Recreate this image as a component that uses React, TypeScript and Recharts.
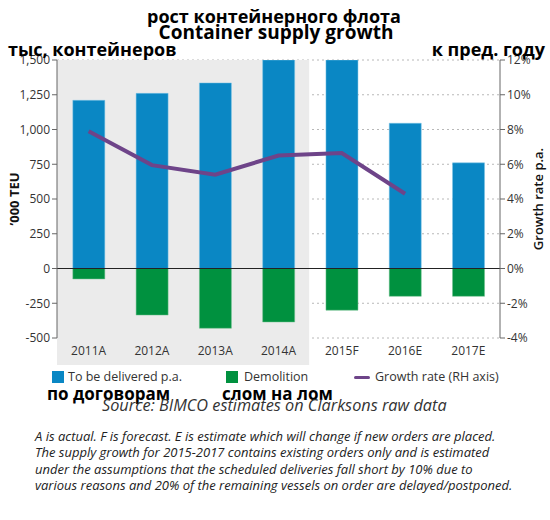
import { Bar, CartesianGrid, ComposedChart, Line, ReferenceArea, ReferenceLine, XAxis, YAxis } from "recharts";

const years = ["2011A", "2012A", "2013A", "2014A", "2015F", "2016E", "2017E"];
const delivered = [1210, 1260, 1335, 1700, 1720, 1045, 760];
const demolition = [-75, -335, -430, -385, -300, -200, -200];
const growthRate: (number | null)[] = [7.9, 5.95, 5.4, 6.5, 6.65, 4.3, null];
const teuTicks = [-500, -250, 0, 250, 500, 750, 1000, 1250, 1500];
const rateTicks = [-4, -2, 0, 2, 4, 6, 8, 10, 12];
const noteLines = [
    "A is actual. F is forecast. E is estimate which will change if new orders are placed.",
    "The supply growth for 2015-2017 contains existing orders only and is estimated",
    "under the assumptions that the scheduled deliveries fall short by 10% due to",
    "various reasons and 20% of the remaining vessels on order are delayed/postponed.",
];

const BLUE = "#0a87c4";
const GREEN = "#00913f";
const PURPLE = "#6e4489";
const FONT = "'Open Sans', sans-serif";

const data = years.map((y, i) => ({ year: y, delivered: delivered[i], demolition: demolition[i], rate: growthRate[i] }));

const tickStyle = { fill: "#333", fontSize: 12, fontFamily: FONT };

function Overlay({ text, left, top, size, style }: { text: string; left?: number; top: number; size: number; style?: React.CSSProperties }) {
    return (
        <div style={{ position: "absolute", left, top, fontSize: size, lineHeight: 1, fontFamily: FONT, whiteSpace: "nowrap", ...style }}>
            {text}
        </div>
    );
}

export default function App() {
    return (
        <div style={{ position: "absolute", left: 0, top: 0, width: 550, height: 520, background: "#fff", fontFamily: FONT }}>
            <ComposedChart
                width={550}
                height={380}
                data={data}
                stackOffset="sign"
                barCategoryGap="25%"
                margin={{ top: 60, right: 0, left: 0, bottom: 12 }}
            >
                <ReferenceArea
                    yAxisId="left"
                    x1="2011A"
                    x2="2014A"
                    y1={-500}
                    y2={1500}
                    fill="#ebebeb"
                    fillOpacity={1}
                    shape={(p: any) => <rect x={p.x} y={p.y} width={p.width - 1} height={p.height + 27} fill="#ebebeb" />}
                />
                <CartesianGrid yAxisId="left" vertical={false} stroke="#b8b8b8" strokeDasharray="2 3" />
                <XAxis dataKey="year" axisLine={false} tickLine={false} tick={tickStyle} height={30} interval={0} />
                <YAxis
                    yAxisId="left"
                    width={57}
                    domain={[-500, 1500]}
                    ticks={teuTicks}
                    allowDataOverflow
                    tick={tickStyle}
                    tickSize={5}
                    axisLine={{ stroke: "#666" }}
                    tickLine={{ stroke: "#666" }}
                    tickFormatter={(v: number) => v.toLocaleString("en-US")}
                    label={{
                        content: (p: any) => (
                            <text
                                x={p.viewBox.x + 14}
                                y={p.viewBox.y + p.viewBox.height / 2}
                                transform={`rotate(-90 ${p.viewBox.x + 14} ${p.viewBox.y + p.viewBox.height / 2})`}
                                textAnchor="middle"
                                dominantBaseline="central"
                                fontSize={13}
                                fontWeight={700}
                                fontFamily={FONT}
                                fill="#111"
                            >
                                ’000 TEU
                            </text>
                        ),
                    }}
                />
                <YAxis
                    yAxisId="right"
                    orientation="right"
                    width={50}
                    domain={[-4, 12]}
                    ticks={rateTicks}
                    tick={tickStyle}
                    tickSize={5}
                    axisLine={{ stroke: "#666" }}
                    tickLine={{ stroke: "#666" }}
                    tickFormatter={(v: number) => `${v}%`}
                    label={{
                        content: (p: any) => (
                            <text
                                x={p.viewBox.x + 38}
                                y={p.viewBox.y + p.viewBox.height / 2}
                                transform={`rotate(-90 ${p.viewBox.x + 38} ${p.viewBox.y + p.viewBox.height / 2})`}
                                textAnchor="middle"
                                dominantBaseline="central"
                                fontSize={13}
                                fontWeight={600}
                                fontFamily={FONT}
                                fill="#111"
                            >
                                Growth rate p.a.
                            </text>
                        ),
                    }}
                />
                <Bar yAxisId="left" dataKey="delivered" stackId="s" fill={BLUE} stroke="#7cc4e6" strokeWidth={0.5} isAnimationActive={false} />
                <Bar yAxisId="left" dataKey="demolition" stackId="s" fill={GREEN} stroke="#6fc08f" strokeWidth={0.5} isAnimationActive={false} />
                <ReferenceLine yAxisId="left" y={0} stroke="#222" strokeWidth={1} />
                <Line
                    yAxisId="right"
                    dataKey="rate"
                    type="linear"
                    stroke={PURPLE}
                    strokeWidth={4}
                    dot={false}
                    activeDot={false}
                    isAnimationActive={false}
                />
            </ComposedChart>

            <Overlay text="рост контейнерного флота" top={7} size={18} style={{ left: 0, width: 548, textAlign: "center", fontWeight: 700, color: "#000" }} />
            <Overlay text="Container supply growth" top={23} size={19} style={{ left: 0, width: 552, textAlign: "center", fontWeight: 700, color: "#000" }} />
            <Overlay text="тыс, контейнеров" left={8} top={40} size={18} style={{ fontWeight: 700, color: "#000" }} />
            <Overlay text="к пред. году" top={40} size={18} style={{ right: 5, fontWeight: 700, color: "#000" }} />

            <div style={{ position: "absolute", left: 52, top: 371, width: 12, height: 12, background: BLUE }} />
            <Overlay text="To be delivered p.a." left={68} top={371} size={12.5} style={{ color: "#333" }} />
            <div style={{ position: "absolute", left: 226, top: 371, width: 12, height: 12, background: GREEN }} />
            <Overlay text="Demolition" left={244} top={371} size={12.5} style={{ color: "#333" }} />
            <div style={{ position: "absolute", left: 354, top: 376, width: 16, height: 3, borderRadius: 2, background: PURPLE }} />
            <Overlay text="Growth rate (RH axis)" left={375} top={371} size={12.5} style={{ color: "#333" }} />

            <Overlay text="по договорам" left={47} top={385} size={17} style={{ fontWeight: 700, color: "#000" }} />
            <Overlay text="слом на лом" left={222} top={385} size={17} style={{ fontWeight: 700, color: "#000" }} />
            <Overlay text="Source: BIMCO estimates on Clarksons raw data" left={102} top={397} size={16.3} style={{ fontStyle: "italic", color: "#333" }} />

            <div style={{ position: "absolute", left: 35, top: 428, fontSize: 13, lineHeight: "16.3px", fontStyle: "italic", color: "#222", fontFamily: FONT }}>
                {noteLines.map((l) => (
                    <div key={l} style={{ whiteSpace: "nowrap" }}>{l}</div>
                ))}
            </div>
        </div>
    );
}
